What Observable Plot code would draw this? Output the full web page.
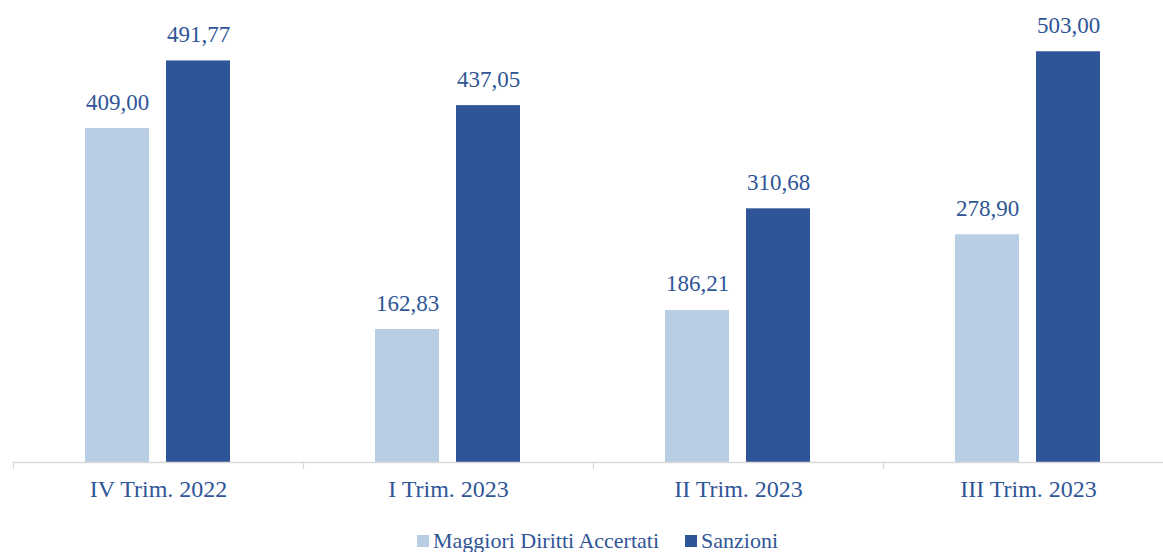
<!DOCTYPE html>
<html>
<head>
<meta charset="utf-8">
<script src="https://cdn.jsdelivr.net/npm/d3@7"></script>
<script src="https://cdn.jsdelivr.net/npm/@observablehq/plot@0.6"></script>
<style>
  html, body { margin: 0; padding: 0; background: #fff; }
  #legend { height: 30px; padding-top: 4px; padding-left: 32px; display: flex; justify-content: center; align-items: center;
    font-family: "Liberation Serif", "DejaVu Serif", serif; font-size: 22px; color: #2f5597; }
  .item { display: flex; align-items: center; margin: 0 13px; }
  .sw { width: 12px; height: 12px; margin-right: 4px; display: inline-block; }
</style>
</head>
<body>
<div id="chart"></div>
<div id="legend"></div>
<script>
const categories = ["IV Trim. 2022", "I Trim. 2023", "II Trim. 2023", "III Trim. 2023"];
const series = ["Maggiori Diritti Accertati", "Sanzioni"];
const maggiori = [409.00, 162.83, 186.21, 278.90];
const sanzioni = [491.77, 437.05, 310.68, 503.00];
const colors = ["#b9cde5", "#2e5597"];
const textColor = "#2f5597";

const data = [];
categories.forEach((c, i) => {
  data.push({cat: c, series: series[0], value: maggiori[i]});
  data.push({cat: c, series: series[1], value: sanzioni[i]});
});

const fmt = v => v.toFixed(2).replace(".", ",");
const fxRange = [13, 1173];
const step = (fxRange[1] - fxRange[0]) / categories.length;
const font = "'Liberation Serif', 'DejaVu Serif', serif";

const chart = Plot.plot({
  width: 1163,
  height: 522,
  marginTop: 0,
  marginBottom: 60,
  marginLeft: 13,
  marginRight: 0,
  style: {fontFamily: font, background: "#fff"},
  fx: {domain: categories, range: fxRange, padding: 0, label: null},
  x: {domain: series, paddingInner: 0.207, paddingOuter: 0.872, axis: null},
  y: {domain: [0, 565.8], axis: null},
  color: {domain: series, range: colors},
  marks: [
    Plot.barY(data, {fx: "cat", x: "series", y: "value", fill: "series"}),
    Plot.ruleY([0], {stroke: "#d9d9d9", strokeWidth: 1.3}),
    Plot.text(data, {fx: "cat", x: "series", y: "value", text: d => fmt(d.value),
      dy: -19, lineAnchor: "bottom", fill: textColor, fontSize: 23}),
    Plot.axisFx({anchor: "bottom", text: null, tickSize: 7, stroke: "#d9d9d9", strokeWidth: 1.3, dx: -step / 2}),
    Plot.axisFx({anchor: "bottom", tickSize: 0, tickPadding: 17, fontSize: 24, fill: textColor, label: null})
  ]
});
document.getElementById("chart").appendChild(chart);

const legend = document.getElementById("legend");
series.forEach((s, i) => {
  const it = document.createElement("span");
  it.className = "item";
  const sw = document.createElement("span");
  sw.className = "sw";
  sw.style.background = colors[i];
  it.appendChild(sw);
  it.appendChild(document.createTextNode(s));
  legend.appendChild(it);
});
</script>
</body>
</html>
